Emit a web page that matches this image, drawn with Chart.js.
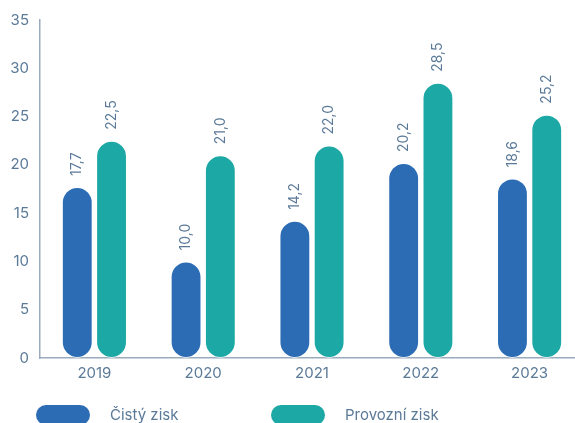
<!DOCTYPE html>
<html>
<head>
<meta charset="utf-8">
<script src="https://cdn.jsdelivr.net/npm/chart.js@4"></script>
<style>
  html, body { margin: 0; padding: 0; background: #fff; overflow: hidden; }
  #wrap { width: 584px; height: 423px; }
</style>
</head>
<body>
<div id="wrap"><canvas id="chart"></canvas></div>
<script>
// data
const years = ['2019', '2020', '2021', '2022', '2023'];
const cistyZisk = [17.7, 10.0, 14.2, 20.2, 18.6];
const provozniZisk = [22.5, 21.0, 22.0, 28.5, 25.2];
const seriesNames = ['Čistý zisk', 'Provozní zisk'];
const yMax = 35;
const yStep = 5;

const textColor = '#5b7a98';
const axisColor = '#9aabbd';
const blue = '#2b6cb4';
const teal = '#1ca8a4';
const fontFamily = 'Inter, "Noto Sans", sans-serif';

const fmt = v => v.toFixed(1).replace('.', ',');

// rotated value labels above each bar
const valueLabels = {
  id: 'valueLabels',
  afterDatasetsDraw(chart) {
    const ctx = chart.ctx;
    ctx.save();
    ctx.fillStyle = textColor;
    ctx.font = '14px ' + fontFamily;
    ctx.textAlign = 'left';
    ctx.textBaseline = 'middle';
    chart.data.datasets.forEach((ds, i) => {
      chart.getDatasetMeta(i).data.forEach((bar, j) => {
        ctx.save();
        ctx.translate(bar.x, bar.y - 11);
        ctx.rotate(-Math.PI / 2);
        ctx.fillText(fmt(ds.data[j]), 0, 0);
        ctx.restore();
      });
    });
    ctx.restore();
  }
};

// pill legend at the bottom, wide spacing like the original
const pillLegend = {
  id: 'pillLegend',
  afterDraw(chart) {
    const ctx = chart.ctx;
    ctx.save();
    ctx.font = '15px ' + fontFamily;
    ctx.textBaseline = 'middle';
    chart.data.datasets.forEach((ds, i) => {
      const x = 36 + i * 235;
      const y = 405;
      ctx.fillStyle = ds.backgroundColor;
      ctx.beginPath();
      ctx.roundRect(x, y, 54, 20, 10);
      ctx.fill();
      ctx.fillStyle = textColor;
      ctx.fillText(ds.label, x + 74, y + 10);
    });
    ctx.restore();
  }
};

new Chart(document.getElementById('chart'), {
  type: 'bar',
  data: {
    labels: years,
    datasets: [
      {
        label: seriesNames[0],
        data: cistyZisk,
        backgroundColor: blue,
        borderColor: 'rgba(255,255,255,0.7)',
        borderWidth: 1,
        borderRadius: 16,
        borderSkipped: false,
      },
      {
        label: seriesNames[1],
        data: provozniZisk,
        backgroundColor: teal,
        borderColor: 'rgba(255,255,255,0.7)',
        borderWidth: 1,
        borderRadius: 16,
        borderSkipped: false,
      },
    ],
  },
  options: {
    responsive: true,
    maintainAspectRatio: false,
    animation: false,
    layout: { padding: { left: 11, top: 12, right: 0, bottom: 35 } },
    datasets: {
      bar: { categoryPercentage: 0.63, barPercentage: 0.9 }
    },
    plugins: {
      legend: { display: false },
      tooltip: { enabled: false },
    },
    scales: {
      x: {
        grid: { display: false, drawTicks: false },
        border: { display: true, color: axisColor, width: 1.5 },
        ticks: { color: textColor, font: { family: fontFamily, size: 15 }, padding: 6 },
      },
      y: {
        min: 0,
        max: yMax,
        afterFit: scale => { scale.width = 29; },
        grid: { display: false, drawTicks: false },
        border: { display: true, color: axisColor, width: 1.5 },
        ticks: {
          stepSize: yStep,
          color: textColor,
          font: { family: fontFamily, size: 15 },
          padding: 11,
        },
      },
    },
  },
  plugins: [valueLabels, pillLegend],
});
</script>
</body>
</html>
